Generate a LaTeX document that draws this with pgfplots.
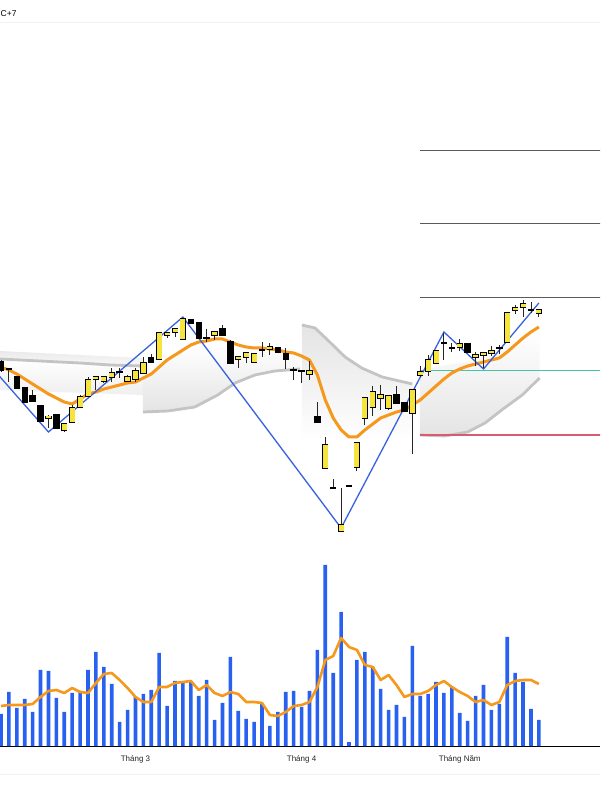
\documentclass[border=0pt]{standalone}
\usepackage{pgfplots}
\pgfplotsset{compat=1.18}
\usepackage{pgfplotstable}
\usepackage{fontspec}
\setmainfont{Liberation Sans}

\definecolor{candleup}{RGB}{245,228,60}
\definecolor{volblue}{RGB}{40,96,240}
\definecolor{zigblue}{RGB}{58,98,222}
\definecolor{maorange}{RGB}{245,152,28}
\definecolor{levelgray}{RGB}{90,90,90}
\definecolor{levelteal}{RGB}{70,196,166}
\definecolor{levelred}{RGB}{214,92,112}
\definecolor{bandedge}{RGB}{196,196,196}
\definecolor{bandfill}{RGB}{228,228,228}

% rising sessions (and dojis): index, open, high, low, close
\pgfplotstableread{
i o h l c
1 431 432 418 431
6 382 385 372 383.5
8 370 377 368 376
9 378 395 377 392
10 393 405 392 403
11 404 423 403 420
12 421 424 410 423
13 419 424 417 423
14 423 432 418 427
15 428 432 422 428
16 419 425 418 423
17 421 432 418 429
18 427 443 426 437
20 441 468 440 467
21 465 468 462 467
22 468 472 463 471
23 461 482 460 481
26 462 471 458 462
27 465 469 460 468
30 441 444 432 443
31 443 448 437 447
32 438 447 437 446
33 450 458 443 450
34 451 457 445 453
37 430 433 420 430
38 429 430 417 429
39 426 439 420 429
41 332 363 331 355
42 312 321 312 312
43 269 312 269 275
44 314 314 314 314
45 333 358 329 357
46 382 403 375 402
47 393 414 384 408
48 402 415 390 405
49 392 405 390 404
52 387 411 346 410
53 425 434 423 428
54 429 445 424 440
55 437 450 436 449
56 457 467 440 457
57 452 457 448 452
58 453 461 449 456
60 443 448 434 445
61 445 448 432 447
62 447 454 444 449
63 452 455 446 452
64 458 488 457 487
65 490 495 486 492
66 493 500 483 496
67 490 498 487 490
68 487 491 483 490
}\upcandles

% falling sessions: index, open, high, low, close
\pgfplotstableread{
i o h l c
0 438 440 428 430
2 423 423 412 412
3 412 412 398 398
4 404 410 399 399
5 394 394 379 379
7 385 385 372 372
19 442 446 437 438
24 480 481 476 477
25 477 478 461 462
28 471 475 464 465
29 458 460 436 437
35 452 453 447 448
36 446 452 431 441
40 383 398 377 378
50 405 414 396 397
51 397 398 388 389
59 456 457 447 448
}\downcandles

% moving average of the close
\pgfplotstableread{
i ma
0 433
1 430
2 426
3 421
4 416
5 411
6 406
7 402
8 398
9 396
10 401
11 406
12 408
13 411
14 413
15 415
16 417
17 418
18 422
19 426
20 433
21 440
22 445
23 450
24 455
25 458
26 459
27 461
28 461
29 458
30 455
31 453
32 452
33 452
34 451
35 450
36 448
37 447
38 444
39 440
40 425
41 400
42 382
43 370
44 363
45 363
46 370
47 376
48 382
49 385
50 388
51 390
52 395
53 400
54 407
55 414
56 421
57 427
58 431
59 434
60 436
61 438
62 440
63 442
64 448
65 455
66 462
67 468
68 473
}\pricema

% traded volume and its moving average
\pgfplotstableread{
i vol ma
0 32 40
1 54 41
2 38 41
3 47 41
4 34 42
5 76 49
6 75 55
7 48 56
8 34 53
9 53 58
10 55 54
11 76 53
12 94 63
13 79 72
14 62 73
15 24 66
16 36 58
17 49 49
18 52 44
19 56 44
20 93 59
21 40 59
22 65 63
23 63 64
24 64 65
25 50 56
26 66 61
27 26 53
28 43 50
29 89 54
30 35 52
31 27 44
32 24 44
33 42 43
34 20 31
35 34 30
36 54 34
37 55 40
38 39 41
39 55 44
40 96 59
41 181 86
42 73 90
43 134 108
44 4 99
45 86 96
46 94 81
47 79 79
48 57 66
49 36 71
50 41 61
51 29 49
52 100 52
53 50 52
54 52 55
55 64 61
56 53 65
57 59 59
58 33 54
59 25 50
60 50 44
61 61 46
62 36 41
63 42 44
64 109 61
65 73 65
66 64 66
67 37 66
68 26 62
}\volume

\pgfplotsset{
  wick/.style={draw=none, mark=none, forget plot,
    error bars/.cd, y dir=both, y explicit, error mark=none,
    error bar style={draw=black!85, line width=0.9pt}},
  body/.style 2 args={draw=none, mark=none, forget plot,
    error bars/.cd, y dir=both, y explicit, error mark=none,
    error bar style={draw=#2, line width=#1}},
}

\begin{document}
\begin{tikzpicture}
\useasboundingbox (0,0) rectangle (600pt,800pt);
\fill[white] (0,0) rectangle (600pt,800pt);
\draw[gray!12, line width=0.8pt] (0,777.3pt) -- (600pt,777.3pt);
\draw[gray!12, line width=0.8pt] (0,26pt) -- (600pt,26pt);
\node[anchor=base west, font=\fontsize{8.5}{10}\selectfont, inner sep=0pt] at (0.5pt,783pt) {C+7};

% ---------------- price panel ----------------
\begin{axis}[
  at={(0pt,255pt)}, anchor=south west,
  scale only axis, width=600pt, height=523pt,
  xmin=-0.126, xmax=75.73, ymin=255, ymax=778,
  hide axis,
]
% shaded bands
\addplot[draw=none, top color=bandfill!80, bottom color=bandfill!20, forget plot] coordinates
  {(-0.13,441) (4.93,439) (10,437) (13.8,435) (17.95,434) (17.95,442) (10,445) (-0.13,449)};
\addplot[draw=none, top color=white, bottom color=bandfill!60, forget plot] coordinates
  {(-0.13,441) (4.93,439) (10,437) (13.8,435) (17.95,434) (17.95,405) (-0.13,410)};
\addplot[draw=none, top color=white, bottom color=bandfill, forget plot] coordinates
  {(17.95,388) (21.1,389) (24.5,393) (27.4,405) (29.6,417) (32.1,425) (34.6,429) (37.8,431)
   (37.8,447) (30,455) (24,455) (17.95,422)};
\addplot[draw=none, top color=bandfill, bottom color=white, forget plot] coordinates
  {(38.05,475) (39.7,472) (41.3,460) (43.5,443) (45.6,432) (48.2,423) (52.0,416)
   (52.0,360) (38.05,360)};
\addplot[draw=none, top color=white, bottom color=bandfill, forget plot] coordinates
  {(52.97,365) (56.1,364) (59.0,368) (61.2,377) (63.3,390) (65.9,405) (68.1,422)
   (68.1,470) (60,440) (52.97,430)};
% band edges
\addplot[bandedge, line width=2.8pt, line join=round] coordinates
  {(-0.13,441) (4.93,439) (10,437) (13.8,435) (17.95,434)};
\addplot[bandedge, line width=2.8pt, line join=round] coordinates
  {(17.95,388) (21.1,389) (24.5,393) (27.4,405) (29.6,417) (32.1,425) (34.6,429) (37.8,431)};
\addplot[bandedge, line width=2.8pt, line join=round] coordinates
  {(38.05,475) (39.7,472) (41.3,460) (43.5,443) (45.6,432) (48.2,423) (52.0,416)};
\addplot[bandedge, line width=2.8pt, line join=round] coordinates
  {(52.97,365) (56.1,364) (59.0,368) (61.2,377) (63.3,390) (65.9,405) (68.1,422)};

% horizontal levels
\addplot[levelgray, line width=0.9pt] coordinates {(52.97,650) (80,650)};
\addplot[levelgray, line width=0.9pt] coordinates {(52.97,577) (80,577)};
\addplot[levelgray, line width=0.9pt] coordinates {(52.97,503) (80,503)};
\addplot[levelteal, line width=1pt] coordinates {(52.97,429) (80,429)};
\addplot[levelred, line width=1.1pt] coordinates {(52.97,365) (80,365)};

% moving average
\addplot[maorange, line width=3pt, line join=round] table[x=i, y=ma] {\pricema};

% swing line
\addplot[zigblue, line width=1.3pt] coordinates
  {(-2,440) (6,368) (23,483) (43,272) (56,468) (61,431) (68,497)};

% candles: wicks, then bodies
\addplot[wick] table[x=i, y expr={(\thisrow{h}+\thisrow{l})/2},
  y error expr={(\thisrow{h}-\thisrow{l})/2}] {\upcandles};
\addplot[wick] table[x=i, y expr={(\thisrow{h}+\thisrow{l})/2},
  y error expr={(\thisrow{h}-\thisrow{l})/2}] {\downcandles};
\addplot[body={6.4pt}{black}] table[x=i, y expr={(\thisrow{o}+\thisrow{c})/2},
  y error expr={abs(\thisrow{c}-\thisrow{o})/2+0.6}] {\upcandles};
\addplot[body={5.0pt}{candleup}] table[x=i, y expr={(\thisrow{o}+\thisrow{c})/2},
  y error expr={abs(\thisrow{c}-\thisrow{o})/2}] {\upcandles};
\addplot[body={6.4pt}{black}] table[x=i, y expr={(\thisrow{o}+\thisrow{c})/2},
  y error expr={abs(\thisrow{c}-\thisrow{o})/2+0.6}] {\downcandles};
\end{axis}

% ---------------- volume panel ----------------
\begin{axis}[
  at={(0pt,54pt)}, anchor=south west,
  scale only axis, width=600pt, height=200pt,
  xmin=-0.126, xmax=75.73, ymin=0, ymax=200,
  axis x line*=bottom, axis y line=none,
  x axis line style={black, line width=0.8pt, -},
  xtick={17,38,58}, xticklabels={Tháng 3,Tháng 4,Tháng Năm},
  major tick length=0pt,
  xticklabel style={anchor=base, yshift=-15pt, font=\fontsize{8}{9}\selectfont, text=black!85},
  ytick=\empty,
]
\addplot[ybar, bar width=3.6pt, fill=volblue, draw=none] table[x=i, y=vol] {\volume};
\addplot[maorange, line width=2.6pt, line join=round] table[x=i, y=ma] {\volume};
\end{axis}
\end{tikzpicture}
\end{document}
